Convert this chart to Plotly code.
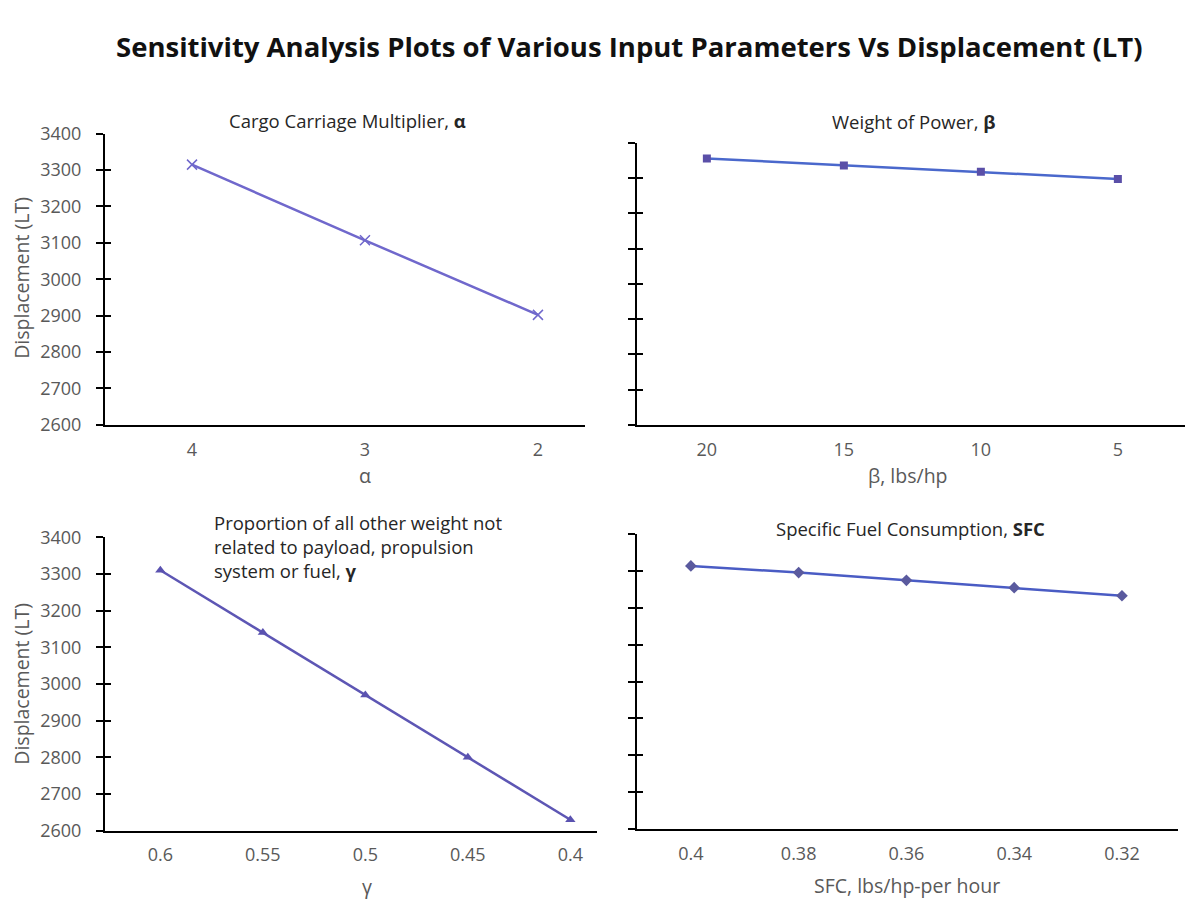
import plotly.graph_objects as go

# ---- data ----
alpha = [4, 3, 2]
disp_alpha = [3315, 3107, 2902]

beta = [20, 15, 10, 5]
disp_beta = [3356, 3336, 3318, 3298]

gamma = [0.6, 0.55, 0.5, 0.45, 0.4]
disp_gamma = [3310, 3140, 2970, 2800, 2630]

sfc = [0.4, 0.38, 0.36, 0.34, 0.32]
disp_sfc = [3314, 3296, 3275, 3255, 3233]

alpha_ticks = ["4", "3", "2"]
beta_ticks = ["20", "15", "10", "5"]
gamma_ticks = ["0.6", "0.55", "0.5", "0.45", "0.4"]
sfc_ticks = ["0.4", "0.38", "0.36", "0.34", "0.32"]

W, H = 1197, 905
FONT = "Open Sans"
GRAY = "#595959"


def px(x):
    return x / W


def py(y):
    return 1 - y / H


fig = go.Figure()

fig.add_trace(go.Scatter(x=alpha, y=disp_alpha, mode="lines+markers", xaxis="x", yaxis="y",
                         line=dict(color="#7068cc", width=2.5),
                         marker=dict(symbol="x-thin", size=10, line=dict(color="#7068cc", width=1.5)),
                         showlegend=False))
fig.add_trace(go.Scatter(x=beta, y=disp_beta, mode="lines+markers", xaxis="x2", yaxis="y2",
                         line=dict(color="#4a68cc", width=2.5),
                         marker=dict(symbol="square", size=8, color="#5a4fa8"),
                         showlegend=False))
fig.add_trace(go.Scatter(x=gamma, y=disp_gamma, mode="lines+markers", xaxis="x3", yaxis="y3",
                         line=dict(color="#5d56b4", width=2.5),
                         marker=dict(symbol="triangle-up", size=9, color="#5a52b0"),
                         showlegend=False))
fig.add_trace(go.Scatter(x=sfc, y=disp_sfc, mode="lines+markers", xaxis="x4", yaxis="y4",
                         line=dict(color="#4a5cc4", width=2.5),
                         marker=dict(symbol="diamond", size=9, color="#5a5a9e"),
                         showlegend=False))

# empty traces for cross-tick overlay axes
for i in range(5, 9):
    fig.add_trace(go.Scatter(x=[], y=[], xaxis="x%d" % (i - 4) if i > 5 else "x", yaxis="y%d" % i,
                             showlegend=False, hoverinfo="skip"))

common_x = dict(showline=True, linecolor="black", linewidth=2, showgrid=False, zeroline=False,
                ticks="", tickfont=dict(family=FONT, size=18, color=GRAY), tickmode="array")
common_y = dict(showline=True, linecolor="black", linewidth=2, showgrid=False, zeroline=False,
                ticks="outside", ticklen=7, tickwidth=1.5, tickcolor="black",
                tickfont=dict(family=FONT, size=18, color=GRAY),
                range=[2600, 3400], tickmode="linear", tick0=2600, dtick=100, ticklabelstandoff=11)

dom = {
    1: ([px(105), px(585)], [py(423), py(124)]),
    2: ([px(637), px(1185)], [py(423), py(133.5)]),
    3: ([px(105), px(597)], [py(840), py(538.5)]),
    4: ([px(637), px(1178)], [py(838), py(535.5)]),
}
xranges = {1: [4.503, 1.728], 2: [22.55, 2.55], 3: [0.627, 0.387], 4: [0.410, 0.3096]}
xvals = {1: alpha, 2: beta, 3: gamma, 4: sfc}
xtext = {1: alpha_ticks, 2: beta_ticks, 3: gamma_ticks, 4: sfc_ticks}
xstand = {1: 8, 2: 8, 3: 7, 4: 8}

layout = {}
for i in range(1, 5):
    sx = "" if i == 1 else str(i)
    xd, yd = dom[i]
    layout["xaxis" + sx] = dict(common_x, domain=xd, anchor="y" + sx, range=xranges[i],
                                tickvals=xvals[i], ticktext=xtext[i], ticklabelstandoff=xstand[i])
    layout["yaxis" + sx] = dict(common_y, domain=yd, anchor="x" + sx,
                                showticklabels=(i in (1, 3)))
    # overlay axis producing the inner half of cross ticks
    layout["yaxis%d" % (i + 4)] = dict(domain=yd, anchor="x" + sx, overlaying="y" + sx,
                                       range=[2600, 3400], tickmode="linear", tick0=2600, dtick=100,
                                       ticks="inside", ticklen=6, tickwidth=1.5, tickcolor="black",
                                       showline=False, showgrid=False, zeroline=False,
                                       showticklabels=False)

fig.update_layout(**layout)

ann = []
ann.append(dict(text="<b>Sensitivity Analysis Plots of Various Input Parameters Vs Displacement (LT)</b>",
                x=px(629), y=py(34), xref="paper", yref="paper", showarrow=False,
                font=dict(family=FONT, size=27.5, color="#111111"), xanchor="center", yanchor="middle"))
sub = dict(font=dict(family=FONT, size=18.5, color="#262626"), showarrow=False,
           xref="paper", yref="paper", yanchor="middle")
ann.append(dict(sub, text="Cargo Carriage Multiplier, <b>α</b>", x=px(347), y=py(110), xanchor="center"))
ann.append(dict(sub, text="Weight of Power, <b>β</b>", x=px(913), y=py(111), xanchor="center"))
ann.append(dict(sub, text="Proportion of all other weight not<br>related to payload, propulsion<br>system or fuel, <b>γ</b>",
                x=px(212), y=py(548), xanchor="left", align="left"))
ann.append(dict(sub, text="Specific Fuel Consumption, <b>SFC</b>", x=px(910), y=py(530), xanchor="center"))

axt = dict(font=dict(family=FONT, size=19.5, color=GRAY), showarrow=False,
           xref="paper", yref="paper", xanchor="center", yanchor="middle")
ann.append(dict(axt, text="α", x=px(365), y=py(475)))
ann.append(dict(axt, text="β, lbs/hp", x=px(908), y=py(475)))
ann.append(dict(axt, text="γ", x=px(367), y=py(897)))
ann.append(dict(axt, text="SFC, lbs/hp-per hour", x=px(907), y=py(896)))
ann.append(dict(axt, text="Displacement (LT)", x=px(22), y=py(272), textangle=-90))
ann.append(dict(axt, text="Displacement (LT)", x=px(22), y=py(689), textangle=-90))

fig.update_layout(width=W, height=H, margin=dict(l=0, r=0, t=0, b=0),
                  paper_bgcolor="white", plot_bgcolor="white", annotations=ann,
                  font=dict(family=FONT))

fig.write_html("out.html", config={"displayModeBar": False},
               post_script="document.body.style.margin='0';document.body.style.overflow='hidden';")
